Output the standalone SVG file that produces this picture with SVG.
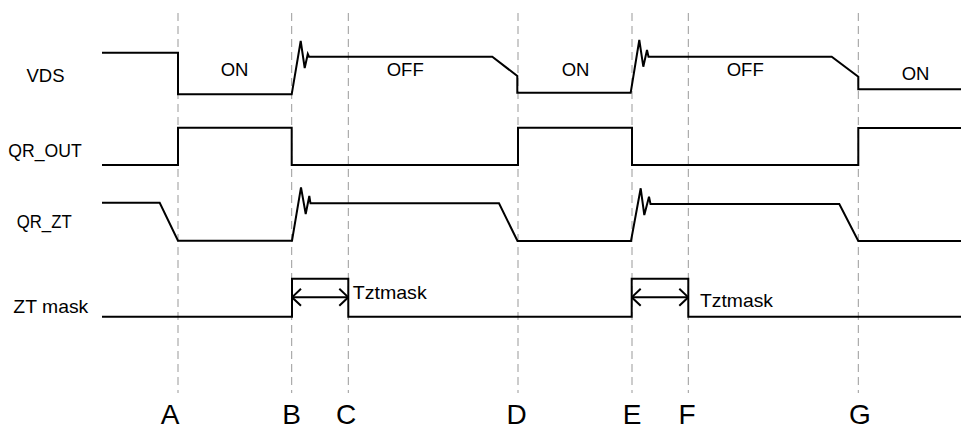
<svg xmlns="http://www.w3.org/2000/svg" width="961" height="429" viewBox="0 0 961 429">
<style>
.grid{stroke:#999;stroke-width:1;stroke-dasharray:8 5;fill:none}
.sig{stroke:#000;stroke-width:2;fill:none;stroke-linejoin:miter}
.t{font-family:"Liberation Sans",Arial,sans-serif;fill:#000}
.lbl{font-size:18.5px}
.mk{font-size:28px;text-anchor:middle}
.tz{font-size:19px}
</style>
<defs>
<marker id="chev" viewBox="0 0 10 20" refX="10" refY="10" markerWidth="10" markerHeight="20" markerUnits="userSpaceOnUse" orient="auto-start-reverse">
<path d="M1,1.5 L10,10 L1,18.5" fill="none" stroke="#000" stroke-width="2"/>
</marker>
</defs>
<rect width="961" height="429" fill="#fff"/>
<g id="gridlines">
<line class="grid" x1="178" y1="13" x2="178" y2="393"/>
<line class="grid" x1="291.7" y1="13" x2="291.7" y2="393"/>
<line class="grid" x1="348.3" y1="13" x2="348.3" y2="393"/>
<line class="grid" x1="518" y1="13" x2="518" y2="393"/>
<line class="grid" x1="632" y1="13" x2="632" y2="393"/>
<line class="grid" x1="688.3" y1="13" x2="688.3" y2="393"/>
<line class="grid" x1="858.3" y1="13" x2="858.3" y2="393"/>
</g>
<g id="signal-labels">
<text class="t lbl" x="26.5" y="81.7">VDS</text>
<text class="t lbl" x="8.3" y="156.7" textLength="73.4" lengthAdjust="spacingAndGlyphs">QR_OUT</text>
<text class="t lbl" x="16.7" y="228.3" textLength="55" lengthAdjust="spacingAndGlyphs">QR_ZT</text>
<text class="t lbl" x="13.3" y="313.3" textLength="75" lengthAdjust="spacingAndGlyphs">ZT mask</text>
</g>
<g id="vds">
<path class="sig" d="M102,52.7 H178 V94.3 H291.7 L300.7,41 L304.7,68 L307.8,54 L309,56.7 H492.3 L517.3,76 V92.7 H630.7 L639.3,40 L643.3,66.7 L647,50 L648.5,56.7 H831.7 L858.3,76.7 V89.3 H961"/>
<text class="t lbl" x="220.7" y="76">ON</text>
<text class="t lbl" x="386.7" y="76">OFF</text>
<text class="t lbl" x="561.7" y="76">ON</text>
<text class="t lbl" x="726.7" y="76">OFF</text>
<text class="t lbl" x="901.7" y="80">ON</text>
</g>
<g id="qr-out">
<path class="sig" d="M102,165 H178 V127.7 H291.7 V165 H518 V127.7 H632 V165 H858.3 V128 H961"/>
</g>
<g id="qr-zt">
<path class="sig" d="M102,202.7 H159.7 L178,240.7 H292 L301,187.3 L305.7,214 L309.3,196 L310.5,203.3 H499 L517.5,241 H631 L640.7,188.3 L644.3,215 L649,196.7 L650.5,204 H839.3 L858.3,241 H961"/>
</g>
<g id="zt-mask">
<path class="sig" d="M102,316.7 H292 V278.7 H348.3 V316.7 H631.7 V278.7 H688.3 V316.7 H961"/>
</g>
<g id="connectors">
<line class="sig" x1="292" y1="297.3" x2="348.3" y2="297.3" marker-start="url(#chev)" marker-end="url(#chev)"/>
<line class="sig" x1="631.7" y1="297.3" x2="688.3" y2="297.3" marker-start="url(#chev)" marker-end="url(#chev)"/>
</g>
<g id="tztmask-labels">
<text class="t tz" x="352.7" y="299" textLength="74" lengthAdjust="spacingAndGlyphs">Tztmask</text>
<text class="t tz" x="700" y="306.5" textLength="73" lengthAdjust="spacingAndGlyphs">Tztmask</text>
</g>
<g id="time-markers">
<text class="t mk" x="170" y="424">A</text>
<text class="t mk" x="291.5" y="424">B</text>
<text class="t mk" x="346" y="424">C</text>
<text class="t mk" x="516.5" y="424">D</text>
<text class="t mk" x="632" y="424">E</text>
<text class="t mk" x="687" y="424">F</text>
<text class="t mk" x="860" y="424">G</text>
</g>
</svg>
